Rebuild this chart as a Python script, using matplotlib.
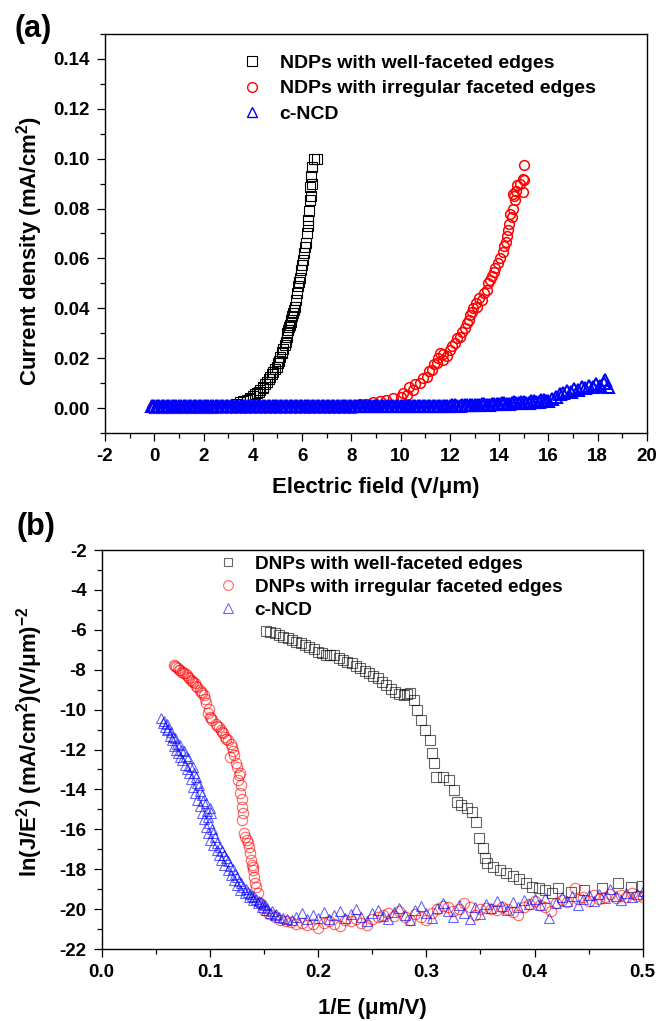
import numpy as np
import matplotlib
matplotlib.use("Agg")
import matplotlib.pyplot as plt
from matplotlib.ticker import MultipleLocator, FormatStrFormatter
from matplotlib.lines import Line2D

plt.rcParams['font.family'] = ['Liberation Sans', 'DejaVu Sans']
plt.rcParams['font.weight'] = 'bold'
plt.rcParams['axes.unicode_minus'] = False
plt.rcParams['mathtext.fontset'] = 'custom'
plt.rcParams['mathtext.rm'] = 'Liberation Sans:bold'
plt.rcParams['mathtext.it'] = 'Liberation Sans:bold'
plt.rcParams['mathtext.bf'] = 'Liberation Sans:bold'

# ---- panel (a): J-E curves ----
blk_E = [0.0, 0.3, 0.6, 0.9, 1.2, 1.5, 1.8, 2.1, 2.4, 2.7, 3.0, 3.3,
         3.48, 3.60, 3.75, 3.88, 4.02, 4.16, 4.30, 4.43, 4.56, 4.70, 4.83, 4.97,
         5.07, 5.17, 5.24, 5.30, 5.37, 5.44, 5.50, 5.57, 5.64, 5.71, 5.75, 5.78,
         5.84, 5.88, 5.91, 5.97, 6.05, 6.11, 6.18, 6.22, 6.25, 6.28, 6.32, 6.33,
         6.38, 6.42, 6.47, 6.60,
         3.9, 4.1, 4.25, 4.4, 4.5, 4.65, 4.78, 4.9, 5.02, 5.12, 5.2, 5.33,
         5.4, 5.47, 5.53, 5.6, 5.68, 6.0, 6.08, 6.15, 6.35, 6.4]
blk_J = [0.0, 0.0, 0.0, 0.0, 0.0, 0.0, 0.0, 0.0, 0.0, 0.0005, 0.0008, 0.0015,
         0.0025, 0.0028, 0.0033, 0.0040, 0.0050, 0.0060, 0.0072, 0.0086, 0.0105, 0.0126, 0.0145, 0.0166,
         0.0190, 0.0220, 0.0235, 0.0253, 0.0285, 0.0313, 0.0335, 0.0353, 0.0380, 0.0406, 0.0435, 0.0460,
         0.0490, 0.0505, 0.0520, 0.0555, 0.0593, 0.0646, 0.0700, 0.0730, 0.0753, 0.0790, 0.0833, 0.0886,
         0.0930, 0.0967, 0.1000, 0.1000,
         0.0035, 0.0055, 0.0065, 0.0080, 0.0095, 0.0115, 0.0135, 0.0155, 0.0180, 0.0205, 0.0225, 0.0265,
         0.0300, 0.0325, 0.0345, 0.0370, 0.0395, 0.0575, 0.0620, 0.0660, 0.0850, 0.0900]

red_E = [-0.1, 0.1, 0.3, 0.5, 0.7, 0.9, 1.1, 1.3, 1.5, 1.7, 1.9, 2.1, 2.3, 2.5,
         2.7, 2.9, 3.1, 3.3, 3.5, 3.7, 3.9, 4.1, 4.3, 4.5, 4.7, 4.9, 5.1, 5.3,
         5.5, 5.7, 5.9, 6.1, 6.3, 6.5, 6.7, 6.9, 7.1, 7.3, 7.5, 7.7, 7.9, 8.1,
         8.37, 8.6, 8.89, 9.15, 9.41, 9.7, 10.0, 10.24, 10.51, 10.78, 11.06, 11.26,
         11.46, 11.60, 11.73, 12.01, 12.21, 12.42, 12.62, 12.76, 12.89, 13.10, 13.30, 13.50,
         13.64, 13.77, 13.97, 14.17, 14.28, 14.37, 14.51, 14.55, 14.57, 14.64, 14.72, 14.98,
         14.99, 15.02,
         10.1, 10.35, 10.6, 10.9, 11.15, 11.35, 11.5, 11.7, 11.9, 12.1, 12.3, 12.5,
         12.7, 12.8, 12.95, 13.05, 13.2, 13.4, 13.55, 13.7, 13.85, 14.05, 14.2, 14.3,
         14.4, 14.45, 14.6, 14.7, 14.85, 14.95]
red_J = [0.0, 0.0, 0.0, 0.0, 0.0, 0.0, 0.0, 0.0, 0.0, 0.0, 0.0, 0.0, 0.0, 0.0,
         0.0, 0.0, 0.0, 0.0, 0.0, 0.0, 0.0, 0.0, 0.0, 0.0, 0.0, 0.0, 0.0, 0.0,
         0.0, 0.0, 0.0, 0.0, 0.0, 0.0, 0.0, 0.0, 0.0, 0.0, 0.0, 0.0, 0.0, 0.0,
         0.0015, 0.0018, 0.0023, 0.0028, 0.0033, 0.0040, 0.0045, 0.0053, 0.0073, 0.0100, 0.0126, 0.0153,
         0.0180, 0.0220, 0.0193, 0.0233, 0.0260, 0.0286, 0.0320, 0.0353, 0.0386, 0.0406, 0.0433, 0.0473,
         0.0513, 0.0546, 0.0580, 0.0626, 0.0667, 0.0713, 0.0767, 0.0860, 0.0800, 0.0833, 0.0893, 0.0867,
         0.0973, 0.0913,
         0.0060, 0.0085, 0.0095, 0.0120, 0.0150, 0.0175, 0.0200, 0.0215, 0.0210, 0.0250, 0.0280, 0.0305,
         0.0340, 0.0375, 0.0400, 0.0420, 0.0440, 0.0460, 0.0500, 0.0530, 0.0560, 0.0600, 0.0650, 0.0690,
         0.0740, 0.0780, 0.0850, 0.0870, 0.0900, 0.0920]

blu_E = [-0.1, 0.0, 0.1, 0.2, 0.3, 0.4, 0.5, 0.6, 0.7, 0.8, 0.9,
         1.0, 1.1, 1.2, 1.3, 1.4, 1.5, 1.6, 1.7, 1.8, 1.9,
         2.0, 2.1, 2.2, 2.3, 2.4, 2.5, 2.6, 2.7, 2.8, 2.9,
         3.0, 3.1, 3.2, 3.3, 3.4, 3.5, 3.6, 3.7, 3.8, 3.9,
         4.0, 4.1, 4.2, 4.3, 4.4, 4.5, 4.6, 4.7, 4.8, 4.9,
         5.0, 5.1, 5.2, 5.3, 5.4, 5.5, 5.6, 5.7, 5.8, 5.9,
         6.0, 6.1, 6.2, 6.3, 6.4, 6.5, 6.6, 6.7, 6.8, 6.9,
         7.0, 7.1, 7.2, 7.3, 7.4, 7.5, 7.6, 7.7, 7.8, 7.9,
         8.0, 8.1, 8.2, 8.3, 8.4, 8.5, 8.6, 8.7, 8.8, 8.9,
         9.0, 9.1, 9.2, 9.3, 9.4, 9.5, 9.6, 9.7, 9.8, 9.9,
         10.0, 10.1, 10.2, 10.3, 10.4, 10.5, 10.6, 10.7, 10.8, 10.9,
         11.0, 11.1, 11.2, 11.3, 11.4, 11.5, 11.6, 11.7, 11.8, 11.9,
         12.0, 12.1, 12.2, 12.3, 12.4, 12.5, 12.6, 12.7, 12.8, 12.9,
         13.0, 13.1, 13.2, 13.3, 13.4, 13.5, 13.6, 13.7, 13.8, 13.9,
         14.0, 14.1, 14.2, 14.3, 14.4, 14.5, 14.6, 14.7, 14.8, 14.9,
         15.0, 15.1, 15.2, 15.3, 15.4, 15.5, 15.6, 15.7, 15.8, 15.9,
         16.0, 16.15, 16.3, 16.45, 16.6, 16.75, 16.9, 17.05, 17.2, 17.35,
         17.5, 17.65, 17.8, 17.95, 18.1, 18.25, 18.3, 18.4]
blu_J = [0.001, 0.001, 0.001, 0.001, 0.001, 0.001, 0.001, 0.001, 0.001, 0.001, 0.001,
         0.001, 0.001, 0.001, 0.001, 0.001, 0.001, 0.001, 0.001, 0.001, 0.001,
         0.001, 0.001, 0.001, 0.001, 0.001, 0.001, 0.001, 0.001, 0.001, 0.001,
         0.001, 0.001, 0.001, 0.001, 0.001, 0.001, 0.001, 0.001, 0.001, 0.001,
         0.001, 0.001, 0.001, 0.001, 0.001, 0.001, 0.001, 0.001, 0.001, 0.001,
         0.001, 0.001, 0.001, 0.001, 0.001, 0.001, 0.001, 0.001, 0.001, 0.001,
         0.001, 0.001, 0.001, 0.001, 0.001, 0.001, 0.001, 0.001, 0.001, 0.001,
         0.001, 0.001, 0.001, 0.001, 0.001, 0.001, 0.001, 0.001, 0.001, 0.001,
         0.001, 0.001, 0.001, 0.001, 0.001, 0.001, 0.001, 0.001, 0.001, 0.001,
         0.001, 0.001, 0.001, 0.001, 0.001, 0.001, 0.001, 0.001, 0.001, 0.001,
         0.001, 0.001, 0.001, 0.001, 0.001, 0.001, 0.001, 0.001, 0.001, 0.001,
         0.001, 0.001, 0.001, 0.001, 0.001, 0.001, 0.001, 0.001, 0.001, 0.001,
         0.0010, 0.0011, 0.0012, 0.0010, 0.0010, 0.0012, 0.0013, 0.0011, 0.0011, 0.0013,
         0.0014, 0.0012, 0.0012, 0.0015, 0.0016, 0.0013, 0.0013, 0.0016, 0.0018, 0.0015,
         0.0015, 0.0019, 0.0020, 0.0017, 0.0017, 0.0022, 0.0024, 0.0019, 0.0019, 0.0025,
         0.0026, 0.0022, 0.0022, 0.0029, 0.0030, 0.0026, 0.0026, 0.0031, 0.0032, 0.0030,
         0.0030, 0.0036, 0.0045, 0.0055, 0.0062, 0.0070, 0.0066, 0.0078, 0.0074, 0.0085,
         0.0080, 0.0090, 0.0086, 0.0095, 0.0090, 0.0102, 0.0112, 0.0085]

# ---- panel (b): F-N plots ----
fn_blk_x = [0.152, 0.156, 0.160, 0.164, 0.168, 0.172, 0.176, 0.180, 0.184, 0.188,
            0.192, 0.196, 0.200, 0.204, 0.207, 0.211, 0.215, 0.219, 0.223, 0.227,
            0.231, 0.235, 0.239, 0.243, 0.247, 0.251, 0.255, 0.259, 0.263, 0.267,
            0.271, 0.275, 0.279, 0.282, 0.285, 0.289, 0.291, 0.295, 0.299, 0.303,
            0.305, 0.307, 0.309, 0.315, 0.321, 0.326, 0.328, 0.332, 0.338, 0.342,
            0.346, 0.349, 0.352, 0.354, 0.356, 0.362, 0.368, 0.374, 0.380, 0.386,
            0.392, 0.398, 0.404, 0.410, 0.416, 0.422, 0.434, 0.446, 0.462, 0.477,
            0.489, 0.499]
fn_blk_y = [-6.05, -6.10, -6.18, -6.25, -6.35, -6.42, -6.51, -6.60, -6.68, -6.76,
            -6.85, -6.98, -7.10, -7.18, -7.26, -7.24, -7.26, -7.40, -7.51, -7.60,
            -7.68, -7.80, -7.93, -8.05, -8.18, -8.30, -8.43, -8.60, -8.77, -8.95,
            -9.10, -9.20, -9.27, -9.22, -9.18, -9.52, -10.02, -10.52, -11.02, -11.52,
            -12.19, -12.69, -13.36, -13.36, -13.53, -14.03, -14.62, -14.78, -14.95, -15.12,
            -15.62, -16.45, -16.95, -17.45, -17.70, -17.87, -18.04, -18.17, -18.34, -18.51,
            -18.71, -18.88, -18.96, -19.04, -19.21, -18.96, -19.13, -19.04, -18.96, -18.71,
            -18.88, -18.85]

fn_red_x = [0.0666, 0.0686, 0.0706, 0.0726, 0.0746, 0.0766, 0.0786, 0.0805, 0.0825, 0.0845,
            0.0865, 0.0885, 0.0905, 0.0925, 0.0945, 0.0964, 0.0984, 0.1003, 0.1023, 0.1053,
            0.1083, 0.1103, 0.1123, 0.1143, 0.1163, 0.1182, 0.1202, 0.1222, 0.1241, 0.1262,
            0.1281, 0.1281, 0.1293, 0.1301, 0.1313, 0.1341, 0.1360, 0.1370, 0.1381, 0.1390,
            0.1400, 0.1410, 0.1421, 0.1440, 0.1459,
            0.0676, 0.0716, 0.0756, 0.0796, 0.0835, 0.0875, 0.0915, 0.0955, 0.0994, 0.1013,
            0.1068, 0.1113, 0.1153, 0.1192, 0.1212, 0.1251, 0.1271, 0.1286, 0.1297, 0.1307,
            0.1320, 0.1350, 0.1395, 0.1430,
            0.150, 0.155, 0.160, 0.165, 0.170, 0.175, 0.180, 0.185, 0.190, 0.195,
            0.200, 0.205, 0.210, 0.215, 0.220, 0.225, 0.230, 0.235, 0.240, 0.245,
            0.250, 0.255, 0.260, 0.265, 0.270, 0.275, 0.280, 0.285, 0.290, 0.295,
            0.300, 0.305, 0.310, 0.315, 0.320, 0.325, 0.330, 0.335, 0.340, 0.345,
            0.350, 0.355, 0.360, 0.365, 0.370, 0.375, 0.380, 0.385, 0.390, 0.395,
            0.400, 0.405, 0.410, 0.415, 0.420, 0.425, 0.430, 0.437, 0.440, 0.445,
            0.450, 0.455, 0.460, 0.465, 0.470, 0.475, 0.480, 0.485, 0.490, 0.495,
            0.500]
fn_red_y = [-7.76, -7.85, -7.93, -8.02, -8.10, -8.18, -8.27, -8.40, -8.52, -8.60,
            -8.68, -8.85, -9.02, -9.15, -9.27, -9.69, -10.19, -10.35, -10.52, -10.70,
            -10.86, -11.02, -11.19, -11.35, -11.52, -12.36, -11.86, -12.30, -12.69, -13.53,
            -13.19, -14.20, -14.87, -15.53, -16.20, -16.54, -16.87, -17.20, -17.54, -17.80,
            -18.04, -18.40, -18.71, -19.21, -19.71,
            -7.80, -8.00, -8.15, -8.35, -8.55, -8.80, -9.10, -9.45, -9.95, -10.40,
            -10.80, -11.10, -11.45, -11.70, -12.10, -12.90, -13.30, -13.80, -14.50, -15.20,
            -16.40, -16.70, -17.90, -18.90,
            -20.05, -20.25, -20.40, -20.55, -20.60, -20.65, -20.75, -20.70, -20.80, -20.75,
            -20.95, -20.70, -20.60, -20.75, -20.85, -20.55, -20.60, -20.50, -20.70, -20.80,
            -20.50, -20.40, -20.30, -20.20, -20.35, -20.10, -20.40, -20.55, -20.25, -20.40,
            -20.55, -20.20, -20.00, -19.85, -19.90, -20.10, -20.00, -19.70, -19.90, -20.30,
            -20.00, -19.95, -20.00, -20.05, -19.90, -20.00, -20.15, -20.30, -19.90, -19.75,
            -19.60, -19.80, -19.90, -20.10, -19.70, -19.55, -19.65, -18.96, -19.50, -19.40,
            -19.60, -19.30, -19.50, -19.40, -19.25, -19.45, -19.30, -19.40, -19.20, -19.35,
            -19.40]

fn_blu_x = [0.0547, 0.0567, 0.0587, 0.0607, 0.0627, 0.0647, 0.0667, 0.0687, 0.0707, 0.0727,
            0.0746, 0.0766, 0.0786, 0.0805, 0.0825, 0.0845, 0.0865, 0.0885, 0.0905, 0.0924,
            0.0944, 0.0964, 0.0984, 0.1004, 0.1033, 0.1063, 0.1083, 0.1103, 0.1133, 0.1163,
            0.1192, 0.1222, 0.1252, 0.1281, 0.1320, 0.1360, 0.1400, 0.1440, 0.1480, 0.1519,
            0.1559, 0.1599, 0.1639, 0.1678, 0.1717, 0.1757,
            0.0600, 0.0640, 0.0680, 0.0720, 0.0760, 0.0800, 0.0840, 0.0870, 0.0900, 0.0930,
            0.0960, 0.1000, 0.1010, 0.0985, 0.1020, 0.1050, 0.1090, 0.1130, 0.1170, 0.1210,
            0.1250, 0.1290, 0.1330, 0.1370, 0.1410, 0.1450, 0.1490, 0.1530, 0.1570, 0.1610,
            0.0575, 0.0615, 0.0655, 0.0695, 0.0735, 0.0775, 0.0815, 0.0850, 0.0880, 0.0910,
            0.0940, 0.0970, 0.0995, 0.1030, 0.1070, 0.1110, 0.1150, 0.1190, 0.1230, 0.1270,
            0.1310, 0.1350, 0.1390, 0.1430, 0.1470, 0.1510,
            0.180, 0.185, 0.190, 0.195, 0.200, 0.205, 0.210, 0.215, 0.220, 0.225,
            0.230, 0.235, 0.240, 0.245, 0.250, 0.255, 0.260, 0.265, 0.270, 0.275,
            0.280, 0.285, 0.290, 0.295, 0.300, 0.305, 0.310, 0.315, 0.320, 0.325,
            0.330, 0.335, 0.340, 0.345, 0.350, 0.355, 0.360, 0.365, 0.370, 0.375,
            0.380, 0.385, 0.390, 0.395, 0.400, 0.405, 0.410, 0.413, 0.420, 0.425,
            0.430, 0.435, 0.440, 0.445, 0.450, 0.455, 0.460, 0.465, 0.470, 0.475,
            0.480, 0.485, 0.490, 0.495, 0.500]
fn_blu_y = [-10.44, -10.65, -10.85, -11.02, -11.30, -11.52, -11.80, -12.02, -12.20, -12.40,
            -12.53, -12.80, -13.00, -13.19, -13.50, -13.86, -14.20, -14.53, -14.85, -15.20,
            -15.50, -15.87, -16.20, -16.54, -16.80, -17.04, -17.30, -17.54, -17.80, -18.04,
            -18.30, -18.54, -18.80, -19.04, -19.20, -19.38, -19.55, -19.71, -19.90, -20.05,
            -20.18, -20.30, -20.40, -20.46, -20.50, -20.55,
            -10.70, -11.10, -11.40, -11.75, -12.10, -12.45, -12.90, -13.40, -13.80, -14.30,
            -14.70, -14.95, -15.20, -15.40, -16.00, -16.40, -16.90, -17.30, -17.60, -18.00,
            -18.40, -18.70, -19.00, -19.25, -19.40, -19.60, -19.75, -19.95, -20.10, -20.25,
            -10.55, -10.95, -11.35, -11.70, -12.00, -12.35, -12.85, -13.20, -13.70, -14.10,
            -14.60, -15.10, -15.70, -16.20, -16.70, -17.10, -17.45, -17.85, -18.25, -18.60,
            -18.90, -19.15, -19.35, -19.50, -19.65, -19.80,
            -20.40, -20.20, -20.50, -20.30, -20.45, -20.15, -20.50, -20.30, -20.10, -20.45,
            -20.25, -20.00, -20.40, -20.60, -20.20, -20.05, -20.35, -20.50, -20.15, -19.95,
            -20.30, -20.55, -20.05, -19.85, -20.20, -20.45, -19.95, -19.70, -20.10, -20.40,
            -19.80, -20.20, -20.50, -19.90, -20.25, -19.75, -19.95, -19.60, -19.85, -20.05,
            -19.65, -19.90, -19.55, -19.75, -19.50, -19.80, -19.45, -20.45, -19.70, -19.40,
            -19.60, -19.35, -19.80, -19.50, -19.30, -19.60, -19.25, -19.45, -19.00, -19.35,
            -19.55, -19.20, -19.40, -19.25, -19.10]

labels_a = ['NDPs with well-faceted edges', 'NDPs with irregular faceted edges', 'c-NCD']
labels_b = ['DNPs with well-faceted edges', 'DNPs with irregular faceted edges', 'c-NCD']

W, H = 672, 1021
fig = plt.figure(figsize=(W / 100, H / 100), dpi=100)
ax1 = fig.add_axes([105 / W, 1 - 433 / H, 542 / W, 399 / H])
ax2 = fig.add_axes([101.7 / W, 1 - 949 / H, 541 / W, 399 / H])


def style_axes(ax):
    for s in ax.spines.values():
        s.set_linewidth(1.0)
    ax.tick_params(which='both', direction='out', top=False, right=False,
                   width=0.9, labelsize=13.5)
    ax.tick_params(which='major', length=6, pad=5)
    ax.tick_params(which='minor', length=3.5)


# panel a
ax1.plot(blk_E, blk_J, 's', ms=6.5, mfc='none', mec='black', mew=0.8)
ax1.plot(red_E, red_J, 'o', ms=7, mfc='none', mec='red', mew=1.1)
ax1.plot(blu_E, blu_J, '^', ms=8, mfc='none', mec='blue', mew=1.5)
ax1.set_xlim(-2, 20)
ax1.set_ylim(-0.01, 0.15)
ax1.xaxis.set_major_locator(MultipleLocator(2))
ax1.xaxis.set_minor_locator(MultipleLocator(1))
ax1.yaxis.set_major_locator(MultipleLocator(0.02))
ax1.yaxis.set_minor_locator(MultipleLocator(0.01))
ax1.yaxis.set_major_formatter(FormatStrFormatter('%.2f'))
style_axes(ax1)
ax1.set_xlabel('Electric field (V/μm)', fontsize=16, fontweight='bold')
ax1.set_ylabel('Current density (mA/cm$^{2}$)', fontsize=16, fontweight='bold')
ax1.xaxis.set_label_coords(0.5, -55 / 399)
ax1.xaxis.label.set_va('center')
ax1.yaxis.set_label_coords(-75 / 542, 0.455)
ax1.yaxis.label.set_va('center')

h_a = [Line2D([], [], ls='none', marker='s', ms=6.5, mfc='none', mec='black', mew=0.8),
       Line2D([], [], ls='none', marker='o', ms=7, mfc='none', mec='red', mew=1.0),
       Line2D([], [], ls='none', marker='^', ms=7, mfc='none', mec='blue', mew=1.0)]
ax1.legend(h_a, labels_a, loc='upper left', bbox_to_anchor=(0.254, 0.949),
           frameon=False, fontsize=14, handlelength=1.0, handletextpad=0.9,
           labelspacing=0.40, borderpad=0, borderaxespad=0)

# panel b
ax2.plot(fn_blk_x, fn_blk_y, 's', ms=6.5, mfc='none', mec='black', mew=0.8, alpha=0.6)
ax2.plot(fn_red_x, fn_red_y, 'o', ms=7.5, mfc='none', mec='red', mew=0.8, alpha=0.6)
ax2.plot(fn_blu_x, fn_blu_y, '^', ms=7.5, mfc='none', mec='blue', mew=0.8, alpha=0.6)
ax2.set_xlim(0, 0.5)
ax2.set_ylim(-22, -2)
ax2.xaxis.set_major_locator(MultipleLocator(0.1))
ax2.xaxis.set_minor_locator(MultipleLocator(0.05))
ax2.yaxis.set_major_locator(MultipleLocator(2))
ax2.yaxis.set_minor_locator(MultipleLocator(1))
ax2.xaxis.set_major_formatter(FormatStrFormatter('%.1f'))
ax2.yaxis.set_major_formatter(FormatStrFormatter('%d'))
style_axes(ax2)
ax2.set_xlabel('1/E (μm/V)', fontsize=16, fontweight='bold')
ax2.set_ylabel('ln(J/E$^{2}$) (mA/cm$^{2}$)(V/μm)$^{-2}$', fontsize=16, fontweight='bold')
ax2.xaxis.set_label_coords(0.5, -59 / 399)
ax2.xaxis.label.set_va('center')
ax2.yaxis.set_label_coords(-72 / 541, 0.52)
ax2.yaxis.label.set_va('center')

h_b = [Line2D([], [], ls='none', marker='s', ms=6, mfc='none', mec='black', mew=0.8, alpha=0.6),
       Line2D([], [], ls='none', marker='o', ms=7, mfc='none', mec='red', mew=0.8, alpha=0.6),
       Line2D([], [], ls='none', marker='^', ms=7, mfc='none', mec='blue', mew=0.8, alpha=0.6)]
ax2.legend(h_b, labels_b, loc='upper left', bbox_to_anchor=(0.215, 0.987),
           frameon=False, fontsize=13.7, handlelength=1.0, handletextpad=0.92,
           labelspacing=0.31, borderpad=0, borderaxespad=0)

fig.text(15 / W, 1 - 28.5 / H, '(a)', fontsize=22, fontweight='bold', va='center', ha='left')
fig.text(17 / W, 1 - 527 / H, '(b)', fontsize=22, fontweight='bold', va='center', ha='left')

fig.savefig('out.png', dpi=100)
